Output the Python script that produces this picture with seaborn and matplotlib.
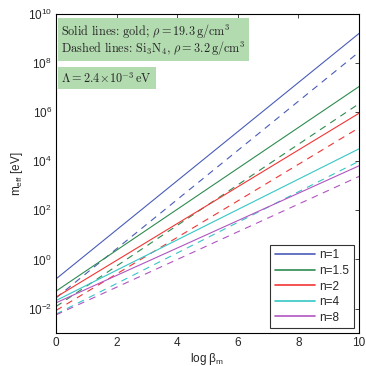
import numpy as np
import pandas as pd
import matplotlib
matplotlib.use('Agg')
import matplotlib.pyplot as plt
import seaborn as sns

# log beta_m end points
x_ends = [0, 10]
n_labels = ['n=1', 'n=1.5', 'n=2', 'n=4', 'n=8']

# m_eff [eV] read at log beta = 0 and 10
gold_start = [0.16, 0.051, 0.029, 0.021, 0.017]
gold_end = [1.6e9, 1.1e7, 9.0e5, 3.2e4, 6.5e3]
sin_start = [0.027, 0.012, 0.0083, 0.0059, 0.0055]
sin_end = [2.8e8, 2.2e6, 2.3e5, 1.0e4, 2.4e3]

colors = ['#4a5cb8', '#2e8b50', '#f23535', '#35c6c6', '#b055c0']

rows = []
for i, lab in enumerate(n_labels):
    for mat, s, e in [('gold', gold_start, gold_end), ('Si3N4', sin_start, sin_end)]:
        rows.append({'x': x_ends[0], 'm': s[i], 'n': lab, 'material': mat})
        rows.append({'x': x_ends[1], 'm': e[i], 'n': lab, 'material': mat})
df = pd.DataFrame(rows)

sns.set_style('white')
plt.rcParams['font.family'] = ['Liberation Sans', 'DejaVu Sans']
plt.rcParams['mathtext.fontset'] = 'custom'
plt.rcParams['mathtext.rm'] = 'Liberation Sans'
plt.rcParams['mathtext.it'] = 'Liberation Sans:italic'

fig = plt.figure(figsize=(3.66, 3.66), dpi=100)
ax = fig.add_axes([0.153, 0.090, 0.828, 0.872])

sns.lineplot(data=df, x='x', y='m', hue='n', style='material',
             palette=colors, hue_order=n_labels,
             style_order=['gold', 'Si3N4'],
             dashes={'gold': '', 'Si3N4': (6, 5)},
             linewidth=0.8, legend=False, ax=ax)

ax.set_yscale('log')
ax.set_xlim(0, 10)
ax.set_ylim(1e-3, 1e10)
ax.set_xticks([0, 2, 4, 6, 8, 10])
ax.set_yticks([1e-2, 1e0, 1e2, 1e4, 1e6, 1e8, 1e10])
ax.yaxis.set_minor_locator(matplotlib.ticker.NullLocator())
ax.tick_params(direction='in', top=True, right=True, length=3, width=0.6,
               labelsize=8.5, pad=3)
for sp in ax.spines.values():
    sp.set_linewidth(0.8)
    sp.set_color('black')

ax.set_xlabel(r'log β$_{\mathrm{m}}$', fontsize=8.5, labelpad=1)
ax.set_ylabel(r'm$_{\mathrm{eff}}$ [eV]', fontsize=8.5, labelpad=2)

# legend with solid lines only
handles = [plt.Line2D([], [], color=c, lw=1.2) for c in colors]
leg = ax.legend(handles, n_labels, loc='lower right', fontsize=8.5,
                frameon=True, fancybox=False, edgecolor='black',
                handlelength=3.4, borderpad=0.4, labelspacing=0.3,
                handletextpad=0.4, borderaxespad=0.4)
leg.get_frame().set_linewidth(0.8)

box = dict(facecolor='#b3dbb0', edgecolor='none', pad=2.5)
ax.text(0.018, 0.975,
        'Solid lines: gold; $\\rho = 19.3\\,\\mathrm{g/cm}^3$\n'
        'Dashed lines: Si$_3$N$_4$, $\\rho = 3.2\\,\\mathrm{g/cm}^3$',
        transform=ax.transAxes, va='top', ha='left', fontsize=8.8,
        family='cmr10', math_fontfamily='cm', bbox=box, linespacing=0.95)
ax.text(0.018, 0.822, r'$\Lambda = 2.4\!\times\!10^{-3}\,\mathrm{eV}$',
        transform=ax.transAxes, va='top', ha='left', fontsize=8.8,
        math_fontfamily='cm', bbox=box)

fig.savefig('out.png', dpi=100)
